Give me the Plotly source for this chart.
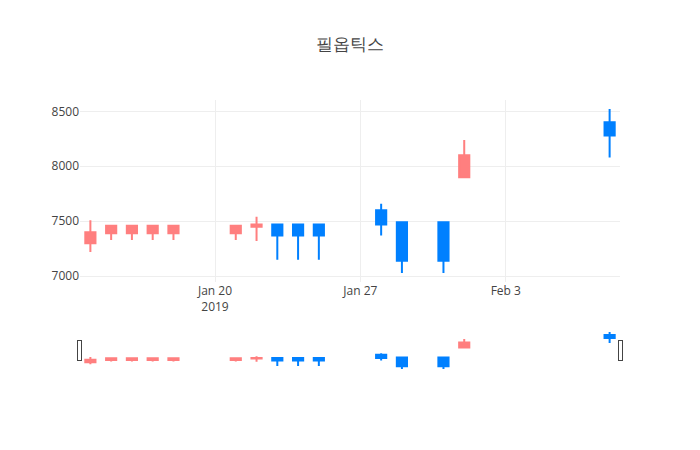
import plotly.graph_objects as go

dates = ["2019-01-14", "2019-01-15", "2019-01-16", "2019-01-17", "2019-01-18",
         "2019-01-21", "2019-01-22", "2019-01-23", "2019-01-24", "2019-01-25",
         "2019-01-28", "2019-01-29", "2019-01-31", "2019-02-01", "2019-02-08"]
opens = [7300, 7390, 7390, 7390, 7390, 7390, 7450, 7470, 7470, 7470, 7600, 7490, 7490, 7900, 8400]
highs = [7510, 7460, 7460, 7460, 7460, 7460, 7540, 7470, 7470, 7470, 7660, 7490, 7490, 8240, 8520]
lows = [7220, 7330, 7330, 7330, 7330, 7330, 7320, 7150, 7150, 7150, 7370, 7030, 7030, 7900, 8080]
closes = [7400, 7460, 7460, 7460, 7460, 7460, 7470, 7370, 7370, 7370, 7470, 7140, 7140, 8100, 8280]

up_color = "#ff7f7f"
down_color = "#0080ff"

fig = go.Figure(go.Candlestick(
    x=dates, open=opens, high=highs, low=lows, close=closes,
    increasing=dict(line=dict(color=up_color), fillcolor=up_color),
    decreasing=dict(line=dict(color=down_color), fillcolor=down_color),
))
fig.update_layout(
    template="none",
    title=dict(text="필옵틱스"),
    width=700, height=450,
)
fig.write_html("out.html", config={"displayModeBar": False},
               post_script="document.body.style.margin='0';")
